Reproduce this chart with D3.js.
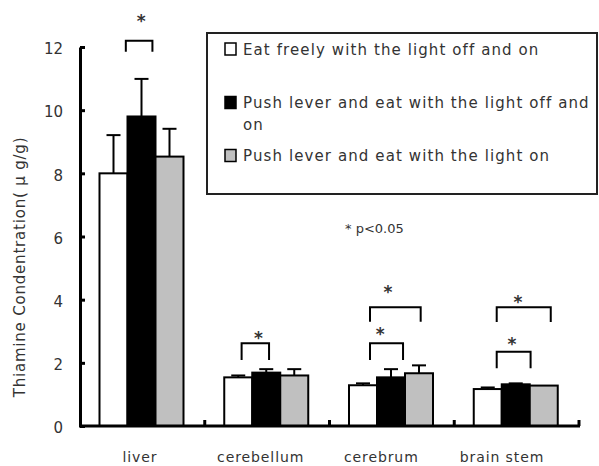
<!DOCTYPE html>
<html>
<head>
<meta charset="utf-8">
<style>
body { margin: 0; background: #fff; }
svg { display: block; }
text { font-family: "DejaVu Sans", sans-serif; fill: #333; }
</style>
</head>
<body>
<svg width="599" height="466"></svg>
<script src="https://cdn.jsdelivr.net/npm/d3@7/dist/d3.min.js"></script>
<script>
// categories and series
var tissues = ["liver", "cerebellum", "cerebrum", "brain stem"];
var groups = ["Eat freely with the light off and on",
              "Push lever and eat with the light off and on",
              "Push lever and eat with the light on"];
var means = [
  [8.0, 1.54, 1.29, 1.17],
  [9.8, 1.69, 1.54, 1.32],
  [8.53, 1.60, 1.67, 1.28]
];
var sds = [
  [1.21, 0.06, 0.06, 0.05],
  [1.19, 0.11, 0.26, 0.03],
  [0.88, 0.20, 0.25, 0.00]
];
var yTicks = [0, 2, 4, 6, 8, 10, 12];
// significance brackets: tissue, from / to (in bar widths inside group), top, bottom of legs
var brackets = [
  ["liver", 0.94, 1.89, 12.2, 11.85],
  ["cerebellum", 0.62, 1.60, 2.62, 2.09],
  ["cerebrum", 0.75, 1.93, 2.62, 2.09],
  ["cerebrum", 0.75, 2.56, 3.76, 3.30],
  ["brain stem", 0.82, 2.03, 2.35, 1.83],
  ["brain stem", 0.82, 2.75, 3.76, 3.29]
];
// asterisks: tissue, position (bar widths), value
var stars = [
  ["liver", 1.49, 12.89],
  ["cerebellum", 1.22, 2.85],
  ["cerebrum", 1.11, 2.99],
  ["cerebrum", 1.39, 4.31],
  ["brain stem", 1.36, 2.67],
  ["brain stem", 1.58, 3.99]
];
var fills = ["#ffffff", "#000000", "#c0c0c0"];

var svg = d3.select("svg");

var x0 = d3.scaleBand().domain(tissues).range([80, 579]);
var x1 = d3.scaleBand().domain(d3.range(3)).range([19.5, 103.5]);
var bw = x1.bandwidth();
var xl = d3.scalePoint().domain(tissues).range([140, 502]);
var y = d3.scaleLinear().domain([0, 12]).range([426, 47]);

function barX(t, u) { return x0(t) + x1.range()[0] + u * bw; }

// bars
var g = svg.append("g");
groups.forEach(function(name, s) {
  var rows = tissues.map(function(t, i) { return {t: t, m: means[s][i], e: sds[s][i]}; });
  var gs = g.append("g");
  // error bars (upward only)
  gs.selectAll("line.err").data(rows).enter().append("line")
    .attr("x1", function(d) { return x0(d.t) + x1(s) + bw / 2; })
    .attr("x2", function(d) { return x0(d.t) + x1(s) + bw / 2; })
    .attr("y1", function(d) { return y(d.m); })
    .attr("y2", function(d) { return y(d.m + d.e); })
    .attr("stroke", "#000").attr("stroke-width", 2);
  gs.selectAll("line.cap").data(rows.filter(function(d) { return d.e > 0; })).enter().append("line")
    .attr("x1", function(d) { return x0(d.t) + x1(s) + bw / 2 - 7; })
    .attr("x2", function(d) { return x0(d.t) + x1(s) + bw / 2 + 7; })
    .attr("y1", function(d) { return y(d.m + d.e); })
    .attr("y2", function(d) { return y(d.m + d.e); })
    .attr("stroke", "#000").attr("stroke-width", 2);
  gs.selectAll("rect").data(rows).enter().append("rect")
    .attr("x", function(d) { return x0(d.t) + x1(s); })
    .attr("y", function(d) { return y(d.m); })
    .attr("width", bw)
    .attr("height", function(d) { return y(0) - y(d.m); })
    .attr("fill", fills[s])
    .attr("stroke", "#000").attr("stroke-width", 2);
});

// y axis
var yAxis = svg.append("g")
  .attr("transform", "translate(80,0)")
  .call(d3.axisLeft(y).tickValues(yTicks).tickSizeInner(-5).tickSizeOuter(0).tickPadding(17));
yAxis.select(".domain").attr("stroke", "#000").attr("stroke-width", 3);
yAxis.selectAll(".tick line").attr("stroke", "#000").attr("stroke-width", 3);
yAxis.selectAll(".tick text").attr("font-size", 15).attr("fill", "#333")
  .attr("font-family", "DejaVu Sans").attr("dy", "0.45em");

// x axis baseline and boundary ticks
svg.append("line").attr("x1", 79).attr("x2", 580).attr("y1", y(0)).attr("y2", y(0))
  .attr("stroke", "#000").attr("stroke-width", 3);
svg.selectAll("line.xt").data(tissues).enter().append("line")
  .attr("x1", function(d) { return x0(d) + x0.bandwidth(); })
  .attr("x2", function(d) { return x0(d) + x0.bandwidth(); })
  .attr("y1", y(0)).attr("y2", y(0) - 6)
  .attr("stroke", "#000").attr("stroke-width", 3);

svg.selectAll("text.xl").data(tissues).enter().append("text")
  .attr("x", function(d) { return xl(d); })
  .attr("y", 462)
  .attr("text-anchor", "middle")
  .attr("font-size", 14)
  .attr("letter-spacing", 0.9)
  .text(function(d) { return d; });

// y title
svg.append("text")
  .attr("transform", "translate(25,267) rotate(-90)")
  .attr("text-anchor", "middle")
  .attr("font-size", 15)
  .attr("letter-spacing", 0.8)
  .text("Thiamine Condentration( μ g/g)");

// brackets
svg.selectAll("path.br").data(brackets).enter().append("path")
  .attr("d", function(d) {
    var a = barX(d[0], d[1]), b = barX(d[0], d[2]);
    return "M" + a + "," + y(d[4]) + "V" + y(d[3]) + "H" + b + "V" + y(d[4]);
  })
  .attr("fill", "none").attr("stroke", "#000").attr("stroke-width", 2);

svg.selectAll("text.st").data(stars).enter().append("text")
  .attr("x", function(d) { return barX(d[0], d[1]); })
  .attr("y", function(d) { return y(d[2]) + 8; })
  .attr("text-anchor", "middle")
  .attr("font-size", 17)
  .attr("font-weight", "bold")
  .attr("fill", "#222")
  .text("*");

svg.append("text").attr("x", 345).attr("y", 233).attr("font-size", 13).text("* p<0.05");

// legend
svg.append("rect").attr("x", 207).attr("y", 33).attr("width", 390).attr("height", 161)
  .attr("fill", "none").attr("stroke", "#222").attr("stroke-width", 2);
var legRows = [{y: 49, lines: [groups[0]]},
               {y: 102.5, lines: ["Push lever and eat with the light off and", "on"]},
               {y: 155.5, lines: [groups[2]]}];
legRows.forEach(function(r, i) {
  svg.append("rect").attr("x", 225).attr("y", r.y - 6).attr("width", 11).attr("height", 12)
    .attr("fill", fills[i]).attr("stroke", "#000").attr("stroke-width", 1.5);
  r.lines.forEach(function(l, j) {
    svg.append("text").attr("x", 243).attr("y", r.y + 5.5 + j * 22)
      .attr("font-size", 15).attr("letter-spacing", 1.1).text(l);
  });
});
</script>
</body>
</html>
